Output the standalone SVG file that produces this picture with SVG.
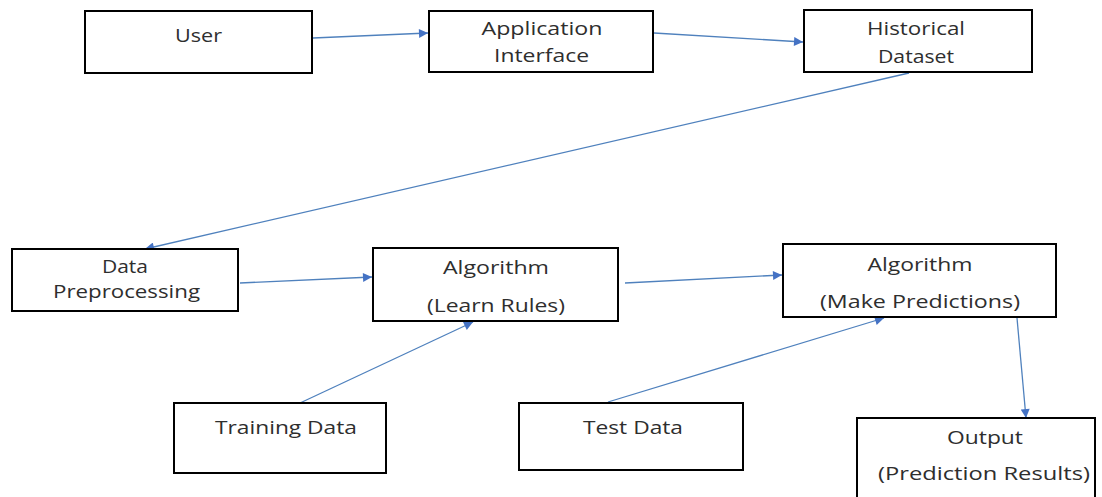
<svg xmlns="http://www.w3.org/2000/svg" width="1102" height="497" viewBox="0 0 1102 497">
<style>
.box{fill:#fff;stroke:#000;stroke-width:2}
.t{font-family:"Open Sans","Liberation Sans",sans-serif;font-size:18px;fill:#2e2e2e;text-anchor:middle}
.c{stroke:#4f81bd;stroke-width:1.3;fill:none;marker-end:url(#ah)}
</style>
<defs>
<marker id="ah" viewBox="0 0 10 10" refX="10" refY="5" markerWidth="12" markerHeight="9" markerUnits="userSpaceOnUse" orient="auto">
<path d="M0,0 L10,5 L0,10 Z" fill="#4472c4"/>
</marker>
</defs>
<rect width="1102" height="497" fill="#fff"/>
<g id="connectors">
<line class="c" x1="313" y1="38" x2="428" y2="33"/>
<line class="c" x1="654" y1="33" x2="803" y2="42"/>
<line class="c" x1="909" y1="73" x2="145" y2="249"/>
<line class="c" x1="240" y1="283" x2="372" y2="277"/>
<line class="c" x1="625" y1="283" x2="782" y2="275"/>
<line class="c" x1="300" y1="403" x2="473" y2="322"/>
<line class="c" x1="608" y1="402" x2="884" y2="318"/>
<line class="c" x1="1017" y1="318" x2="1026" y2="418"/>
</g>
<g id="user"><rect class="box" x="85" y="11" width="227" height="62"/><text class="t" x="198.5" y="42" textLength="47" lengthAdjust="spacingAndGlyphs">User</text></g>
<g id="app"><rect class="box" x="429" y="11" width="224" height="61"/><text class="t" x="542" y="35" textLength="121" lengthAdjust="spacingAndGlyphs">Application</text><text class="t" x="541.5" y="62" textLength="95" lengthAdjust="spacingAndGlyphs">Interface</text></g>
<g id="hist"><rect class="box" x="804" y="10" width="228" height="62"/><text class="t" x="916" y="35" textLength="98" lengthAdjust="spacingAndGlyphs">Historical</text><text class="t" x="916" y="63" textLength="76" lengthAdjust="spacingAndGlyphs">Dataset</text></g>
<g id="prep"><rect class="box" x="12" y="249" width="226" height="62"/><text class="t" x="125" y="273" textLength="46" lengthAdjust="spacingAndGlyphs">Data</text><text class="t" x="126.5" y="298" textLength="147" lengthAdjust="spacingAndGlyphs">Preprocessing</text></g>
<g id="learn"><rect class="box" x="373" y="248" width="245" height="73"/><text class="t" x="496" y="274" textLength="106" lengthAdjust="spacingAndGlyphs">Algorithm</text><text class="t" x="496" y="312" textLength="138" lengthAdjust="spacingAndGlyphs">(Learn Rules)</text></g>
<g id="predict"><rect class="box" x="783" y="244" width="273" height="73"/><text class="t" x="920" y="271" textLength="105" lengthAdjust="spacingAndGlyphs">Algorithm</text><text class="t" x="920" y="308" textLength="200" lengthAdjust="spacingAndGlyphs">(Make Predictions)</text></g>
<g id="train"><rect class="box" x="174" y="403" width="212" height="70"/><text class="t" x="286" y="434" textLength="142" lengthAdjust="spacingAndGlyphs">Training Data</text></g>
<g id="test"><rect class="box" x="519" y="403" width="224" height="67"/><text class="t" x="633" y="434" textLength="100" lengthAdjust="spacingAndGlyphs">Test Data</text></g>
<g id="output"><rect class="box" x="857" y="418" width="238" height="90"/><text class="t" x="985" y="444" textLength="76" lengthAdjust="spacingAndGlyphs">Output</text><text class="t" x="984" y="480" textLength="212" lengthAdjust="spacingAndGlyphs">(Prediction Results)</text></g>
</svg>
